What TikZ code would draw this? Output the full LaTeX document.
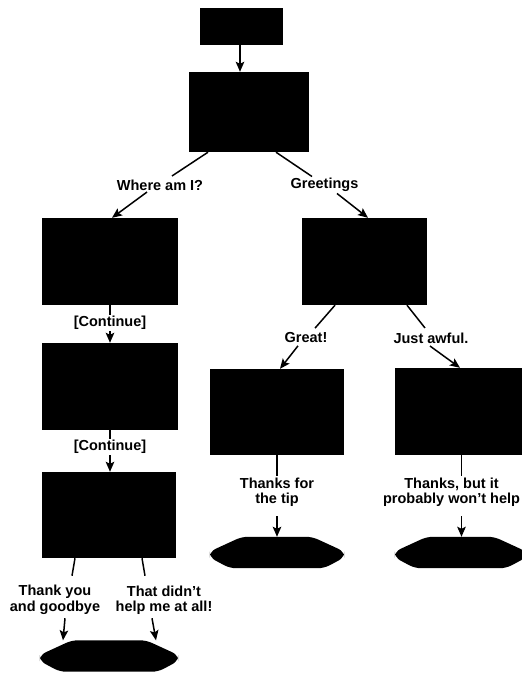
\documentclass[tikz,border=0pt]{standalone}
\usepackage{fontspec}
\setmainfont{Liberation Sans}
\usetikzlibrary{arrows.meta}
% end state outline: flat top and bottom, blunt pointed ends
\newcommand{\finalshape}[1]{%
  \fill[black,rounded corners=6pt]
    ([yshift=1pt]#1.west) -- ([xshift=32pt]#1.north west) -- ([xshift=-32pt]#1.north east)
    -- ([yshift=1pt]#1.east) -- ([yshift=-5pt]#1.east) -- ([xshift=-20pt]#1.south east)
    -- ([xshift=20pt]#1.south west) -- ([yshift=-5pt]#1.west) -- cycle;}
\begin{document}
\begin{tikzpicture}[x=1pt,y=-1pt,
  blk/.style={rectangle,fill=black,draw=none,inner sep=0pt},
  term/.style={rectangle,draw=none,inner sep=0pt,minimum height=31pt},
  lbl/.style={font=\bfseries\fontsize{14.5}{15.5}\selectfont,align=center,inner sep=1.5pt},
  ln/.style={line width=1.5pt},
  arr/.style={line width=1.5pt,-{Stealth[length=10pt,width=8.5pt,inset=2pt]}}]
\useasboundingbox (0,0) rectangle (522,673);

% dialogue states
\node[blk,minimum width=83pt,minimum height=37pt] (top) at (241.5,26.5) {};
\node[blk,minimum width=120pt,minimum height=80pt] (hub) at (249,112) {};
\node[blk,minimum width=136pt,minimum height=87pt] (l1) at (110,261.5) {};
\node[blk,minimum width=125pt,minimum height=87pt] (r1) at (364.5,261.5) {};
\node[blk,minimum width=136pt,minimum height=87pt] (l2) at (110,386.5) {};
\node[blk,minimum width=134pt,minimum height=86pt] (l3) at (109,515) {};
\node[blk,minimum width=134pt,minimum height=86pt] (r2a) at (277,412) {};
\node[blk,minimum width=131pt,minimum height=87pt] (r2b) at (460.5,411.5) {};

% end states
\node[term,minimum width=134pt] (e1) at (277,552.5) {};
\node[term,minimum width=131pt] (e2) at (460.5,552.5) {};
\node[term,minimum width=138pt] (e3) at (109,656) {};
\finalshape{e1}
\finalshape{e2}
\finalshape{e3}

% choices
\node[lbl] (where) at (160,185) {Where am I?};
\node[lbl] (greet) at (324.5,185) {Greetings};
\node[lbl] (c1) at (110,323) {[Continue]};
\node[lbl] (c2) at (110,447) {[Continue]};
\node[lbl] (great) at (306,338) {Great!};
\node[lbl] (awful) at (431,338) {Just awful.};
\node[lbl] (tip) at (277,492) {Thanks for\\the tip};
\node[lbl] (nohelp) at (451.5,492) {Thanks, but it\\probably won't help};
\node[lbl] (bye) at (55,600) {Thank you\\and goodbye};
\node[lbl] (atall) at (164,600) {That didn't\\help me at all!};

% transitions
\draw[arr] ([xshift=-1.5pt]top.south) -- ([xshift=-9pt]hub.north);

\draw[ln] ([xshift=-41pt]hub.south) -- ([xshift=12pt,yshift=2pt]where.north);
\draw[arr] ([xshift=-13pt]where.south) -- ([xshift=2pt]l1.north);
\draw[ln] ([xshift=27pt]hub.south) -- ([xshift=-12.5pt]greet.north);
\draw[arr] ([xshift=12.5pt]greet.south) -- ([xshift=3.5pt]r1.north);

\draw[ln] (l1.south) -- (c1.north);
\draw[arr] (c1.south) -- (l2.north);
\draw[ln] (l2.south) -- (c2.north);
\draw[arr] (c2.south) -- ([xshift=1pt]l3.north);

\draw[ln] ([xshift=-29.5pt]r1.south) -- ([xshift=9pt,yshift=3pt]great.north);
\draw[arr] ([xshift=-8pt,yshift=-1pt]great.south) -- ([xshift=3pt]r2a.north);
\draw[ln] ([xshift=42.5pt]r1.south) -- ([xshift=-6pt,yshift=3pt]awful.north);
\draw[arr] ([xshift=-1pt,yshift=-1pt]awful.south) -- ([xshift=-0.5pt]r2b.north);

\draw[ln] (r2a.south) -- (tip.north);
\draw[arr] ([yshift=-8pt]tip.south) -- (e1.north);
\draw[ln] ([xshift=10pt]nohelp.north |- r2b.south) -- ([xshift=10pt]nohelp.north);
\draw[arr] ([xshift=10pt,yshift=-8pt]nohelp.south) -- ([xshift=10pt]nohelp.south |- e2.north);

\draw[ln] ([xshift=-34pt]l3.south) -- ([xshift=17pt,yshift=8pt]bye.north);
\draw[arr] ([xshift=10pt,yshift=-2pt]bye.south) -- ([xshift=-46pt]e3.north);
\draw[ln] ([xshift=33pt]l3.south) -- ([xshift=-19pt,yshift=8pt]atall.north);
\draw[arr] ([xshift=-12pt,yshift=-2pt]atall.south) -- ([xshift=47pt]e3.north);
\end{tikzpicture}
\end{document}
